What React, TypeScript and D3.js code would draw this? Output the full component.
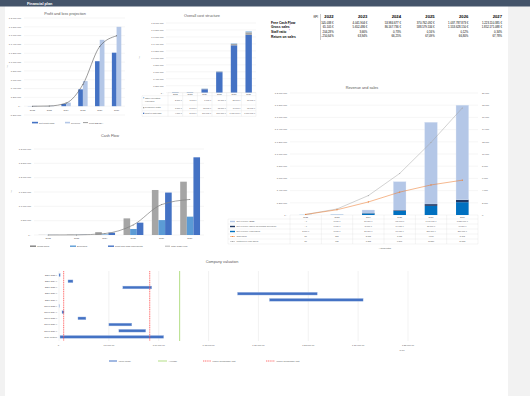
import React from 'react';
import * as d3 from 'd3';

// ---- data ----
const years = ['2022', '2023', '2024', '2025', '2026', '2027'];

// profit and loss (€)
const plNetProfit = [-3000, 2000, 50000, 382000, 1020000, 1213000];
const plRevenue = [6500, 9000, 80000, 569000, 1505000, 1800000];
const plEbitda = [-2000, 4000, 70000, 494000, 1355000, 1595000];

// cost structure (€)
const costMaterials = [4000, 8000, 100000, 590000, 1360000, 1660000];
const costPersonnel = [3000, 5000, 12000, 18000, 40000, 75000];
const costOther = [2000, 3000, 6000, 10000, 18000, 30000];

// KPI table
const kpiFreeCashFlow = [105038, 4041904, 53984677, 370762092, 1037787873, 1223110385];
const kpiGrossSales = [65105, 5652486, 86167736, 588579534, 1553628150, 1852171088];
const kpiStaffRatio = [204.28, 3.66, 0.73, 0.16, 0.12, 0.34];
const kpiReturnOnSales = [-250.64, 63.94, 66.25, 67.09, 66.8, 67.78];

// revenue and sales
const revB2B = [0, 3000, 50000, 466000, 1340000, 1550000];
const revFunding = [0, 1000, 5000, 14000, 30000, 40000];
const revOwn = [2000, 3000, 27000, 66000, 150000, 210000];
const unitsOwn = [89, 857, 2138, 3751, 4930, 5708];
const unitsTotal = [89, 986, 3182, 6807, 11887, 17551];

// cash flow (€)
const cfGross = [5000, 10000, 100000, 580000, 1570000, 1860000];
const cfExpenses = [3000, 5000, 20000, 210000, 520000, 640000];
const cfProfit = [2000, 6000, 80000, 430000, 1480000, 2710000];
const cfTotal = [1000, 4000, 50000, 350000, 1060000, 1240000];

// company valuation (T€)
const valMethods = ['EBIT 2023 x', 'EBIT 2024 x', 'EBIT 2025 x', 'EBIT 2026 x', 'EBIT 2027 x',
  'Sales 2023 x', 'Sales 2024 x', 'Sales 2025 x', 'Sales 2026 x', 'Sales 2027 x', 'DCF method'];
const valLow = [0, 900, 6400, 17900, 21100, 0, 300, 1900, 5000, 6000, 100];
const valHigh = [120, 1400, 9300, 25900, 30500, 40, 500, 2700, 7300, 8700, 10500];
const valAverage = 12100;
const valLowerLimit = 470;
const valUpperLimit = 9100;

const FONT = '"Liberation Sans", Arial, sans-serif';
const TXT = '#595959';
const GRID = '#E4E4E4';
const LINE = '#D9D9D9';

const de = d3.formatLocale({ decimal: ',', thousands: '.', grouping: [3], currency: ['€ ', ''] });
const fmtInt = de.format(',.0f');
const fmt2 = de.format(',.2f');
const euro = (v: number) => (v === 0 ? '€ -' : (v < 0 ? '-€ ' : '€ ') + fmtInt(Math.abs(v)));
const euroCell = (v: number) => (v === 0 ? '- €' : fmtInt(v) + ' €');
const pct = (v: number) => fmt2(v) + '%';

function ProfitChart() {
  const x = d3.scaleBand().domain(years).range([24, 125]);
  const bw = x.bandwidth();
  const inner = d3.scaleBand().domain(['p', 'r']).range([bw * 0.22, bw * 0.78]);
  const y = d3.scaleLinear().domain([-200000, 2000000]).range([115, 18]);
  const ticks = d3.range(-200000, 2000001, 200000);
  const cx = (i: number) => (x(years[i]) as number) + bw / 2;
  const line = d3.line<number>().x((_, i) => cx(i)).y(d => y(d)).curve(d3.curveMonotoneX);
  return (
    <g>
      <text x={65} y={15} fontSize={3.8} fill={TXT} textAnchor="middle">Profit and loss projection</text>
      {ticks.map(t => (
        <g key={t}>
          <line x1={24} x2={125} y1={y(t)} y2={y(t)} stroke={GRID} strokeWidth={0.35} />
          <text x={21} y={y(t) + 0.8} fontSize={2.3} fill={TXT} textAnchor="end">{euro(t)}</text>
        </g>
      ))}
      <text transform={`translate(8,67) rotate(-90)`} fontSize={2.3} fill={TXT} textAnchor="middle">in €</text>
      {years.map((yr, i) => (
        <g key={yr}>
          <rect x={(x(yr) as number) + (inner('p') as number)} width={inner.bandwidth()}
            y={y(Math.max(0, plNetProfit[i]))} height={Math.abs(y(plNetProfit[i]) - y(0))} fill="#4472C4" />
          <rect x={(x(yr) as number) + (inner('r') as number)} width={inner.bandwidth()}
            y={y(plRevenue[i])} height={y(0) - y(plRevenue[i])} fill="#B4C7E7" />
          <text x={cx(i)} y={110.5} fontSize={2.3} fill={TXT} textAnchor="middle">{yr}</text>
        </g>
      ))}
      <path d={line(plEbitda) as string} fill="none" stroke="#595959" strokeWidth={0.6} />
      {plEbitda.map((v, i) => <circle key={i} cx={cx(i)} cy={y(v)} r={0.5} fill="#595959" />)}
      <rect x={32} y={121.8} width={6} height={1.6} fill="#4472C4" />
      <text x={39} y={123.5} fontSize={2.3} fill={TXT}>Net profit/(loss)</text>
      <rect x={65} y={121.8} width={5} height={1.6} fill="#B4C7E7" />
      <text x={71} y={123.5} fontSize={2.3} fill={TXT}>Revenue</text>
      <line x1={83} x2={88} y1={122.6} y2={122.6} stroke="#595959" strokeWidth={0.6} />
      <text x={89} y={123.5} fontSize={2.3} fill={TXT}>Profit EBITDA</text>
    </g>
  );
}

function CostChart() {
  const x = d3.scaleBand().domain(years).range([168, 256]);
  const bw = x.bandwidth();
  const y = d3.scaleLinear().domain([0, 2000000]).range([92.7, 23]);
  const ticks = d3.range(0, 2000001, 200000);
  const rows = years.map((yr, i) => ({ year: yr, materials: costMaterials[i], personnel: costPersonnel[i], other: costOther[i] }));
  const colors: Record<string, string> = { materials: '#4472C4', personnel: '#A5A5A5', other: '#9DC3E6' };
  const series = d3.stack<any>().keys(['materials', 'personnel', 'other'])(rows);
  const tableRows = [
    { label: ['Other operating', 'expenses'], color: colors.other, values: costOther, y0: 95.7, y1: 105 },
    { label: ['Personnel costs'], color: colors.personnel, values: costPersonnel, y0: 105, y1: 110.7 },
    { label: ['Cost of materials'], color: colors.materials, values: costMaterials, y0: 110.7, y1: 116.3 },
  ];
  return (
    <g>
      <text x={202} y={16.5} fontSize={3.8} fill={TXT} textAnchor="middle">Overall cost structure</text>
      {ticks.map(t => (
        <g key={t}>
          <line x1={166} x2={256} y1={y(t)} y2={y(t)} stroke={GRID} strokeWidth={0.35} />
          <text x={163.5} y={y(t) + 0.8} fontSize={2.3} fill={TXT} textAnchor="end">{euro(t)}</text>
        </g>
      ))}
      <text transform={`translate(140,58) rotate(-90)`} fontSize={2.3} fill={TXT} textAnchor="middle">in €</text>
      {series.map(s => s.map((d, i) => (
        <rect key={s.key + i} x={(x(years[i]) as number) + bw / 2 - 3.2} width={6.4}
          y={y(d[1])} height={Math.max(0.3, y(d[0]) - y(d[1]))} fill={colors[s.key]} />
      )))}
      {/* data table */}
      <line x1={168} x2={256} y1={92.7} y2={92.7} stroke={LINE} strokeWidth={0.3} />
      {years.map(yr => (
        <text key={yr} x={(x(yr) as number) + bw / 2} y={95} fontSize={2.2} fill={TXT} textAnchor="middle">{yr}</text>
      ))}
      {tableRows.map(r => (
        <g key={r.label[0]}>
          <line x1={142} x2={256} y1={r.y0} y2={r.y0} stroke={LINE} strokeWidth={0.3} />
          <rect x={143} y={r.y0 + (r.label.length > 1 ? 1.4 : 2)} width={1.3} height={1.3} fill={r.color} />
          {r.label.map((l, k) => (
            <text key={l} x={145} y={r.y0 + 3.4 + k * 3.2} fontSize={2.2} fill={TXT}>{l}</text>
          ))}
          {r.values.map((v, i) => (
            <text key={i} x={(x(years[i]) as number) + bw - 0.8} y={(r.y0 + r.y1) / 2 + 0.8} fontSize={2.1}
              fill={TXT} textAnchor="end">{euroCell(v)}</text>
          ))}
        </g>
      ))}
      <line x1={142} x2={256} y1={116.3} y2={116.3} stroke={LINE} strokeWidth={0.3} />
      {[142, ...years.map(yr => x(yr) as number), 256].map((vx, k) => (
        <line key={k} x1={vx} x2={vx} y1={k === 0 ? 95.7 : 92.7} y2={116.3} stroke={LINE} strokeWidth={0.3} />
      ))}
    </g>
  );
}

function KpiTable() {
  const x = d3.scaleBand().domain(years).range([300, 502]);
  const colRight = (i: number) => (x(years[i]) as number) + x.bandwidth();
  const rows = [
    { label: 'Free Cash Flow', values: kpiFreeCashFlow.map(euroCell), y: 23.8 },
    { label: 'Gross sales', values: kpiGrossSales.map(euroCell), y: 28.4 },
    { label: 'Staff ratio', values: kpiStaffRatio.map(pct), y: 33 },
    { label: 'Return on sales', values: kpiReturnOnSales.map(pct), y: 37.6 },
  ];
  return (
    <g>
      <text x={318} y={17.5} fontSize={2.8} fill="#000" textAnchor="end">KPI</text>
      <line x1={320.5} x2={320.5} y1={14} y2={40} stroke="#7F7F7F" strokeWidth={0.4} />
      <text x={323} y={23.5} fontSize={2.8} fill="#000">-</text>
      {years.map((yr, i) => (
        <text key={yr} x={colRight(i)} y={18.2} fontSize={4.2} fontWeight="bold" fill="#000" textAnchor="end">{yr}</text>
      ))}
      {rows.map(r => (
        <g key={r.label}>
          <text x={271} y={r.y} fontSize={3.3} fontWeight="bold" fill="#000">{r.label}</text>
          {r.values.map((v, i) => (
            <text key={i} x={colRight(i)} y={r.y - 0.3} fontSize={2.8} fill="#000" textAnchor="end">{v}</text>
          ))}
        </g>
      ))}
      <text x={289.5} y={27} fontSize={2.6} fill="#C000C0">*</text>
      <text x={289} y={31.6} fontSize={2.6} fill="#C000C0">*</text>
    </g>
  );
}

function RevenueChart() {
  const x = d3.scaleBand().domain(years).range([290, 478]);
  const bw = x.bandwidth();
  const cx = (i: number) => (x(years[i]) as number) + bw / 2;
  const y = d3.scaleLinear().domain([0, 2000000]).range([215, 93]);
  const y2 = d3.scaleLinear().domain([0, 20000]).range([215, 93]);
  const ticks = d3.range(0, 2000001, 200000);
  const ticks2 = d3.range(0, 20001, 2000);
  const rows = years.map((yr, i) => ({ year: yr, own: revOwn[i], funding: revFunding[i], b2b: revB2B[i] }));
  const colors: Record<string, string> = { own: '#0070C0', funding: '#203864', b2b: '#B4C7E7' };
  const series = d3.stack<any>().keys(['own', 'funding', 'b2b'])(rows);
  const line = d3.line<number>().x((_, i) => cx(i)).y(d => y2(d));
  const tableRows = [
    { label: 'Net revenue (B2B)', color: colors.b2b, kind: 'bar', values: revB2B.map(euroCell) },
    { label: 'Net revenue (sales via funding providers)', color: colors.funding, kind: 'bar', values: revFunding.map(euroCell) },
    { label: 'Net revenue (own sales)', color: colors.own, kind: 'bar', values: revOwn.map(euroCell) },
    { label: 'Own sales', color: '#ED7D31', kind: 'line', values: unitsOwn.map(fmtInt) },
    { label: 'Units fixed (own sales)', color: '#A5A5A5', kind: 'line', values: unitsTotal.map(fmtInt) },
  ];
  const rowY = (k: number) => 219 + k * 5;
  return (
    <g>
      <text x={362} y={89} fontSize={3.8} fill={TXT} textAnchor="middle">Revenue and sales</text>
      {ticks.map(t => (
        <g key={t}>
          <line x1={290} x2={478} y1={y(t)} y2={y(t)} stroke={GRID} strokeWidth={0.35} />
          <text x={287} y={y(t) + 0.8} fontSize={2.3} fill={TXT} textAnchor="end">{euro(t)}</text>
        </g>
      ))}
      {ticks2.map(t => (
        <text key={t} x={482} y={y2(t) + 0.8} fontSize={2.3} fill={TXT}>{fmtInt(t)}</text>
      ))}
      {series.map(s => s.map((d, i) => (
        <rect key={s.key + i} x={cx(i) - 6.3} width={12.6} y={y(d[1])}
          height={Math.max(0, y(d[0]) - y(d[1]))} fill={colors[s.key]} stroke={s.key === 'b2b' ? '#DAE3F3' : 'none'} strokeWidth={0.3} />
      )))}
      <path d={line(unitsTotal) as string} fill="none" stroke="#A5A5A5" strokeWidth={0.5} />
      {unitsTotal.map((v, i) => <circle key={i} cx={cx(i)} cy={y2(v)} r={0.55} fill="#A5A5A5" />)}
      <path d={line(unitsOwn) as string} fill="none" stroke="#ED7D31" strokeWidth={0.55} />
      {unitsOwn.map((v, i) => <circle key={i} cx={cx(i)} cy={y2(v)} r={0.6} fill="#ED7D31" />)}
      {/* data table */}
      {years.map((yr, i) => (
        <text key={yr} x={cx(i)} y={218} fontSize={2.2} fill={TXT} textAnchor="middle">{yr}</text>
      ))}
      {tableRows.map((r, k) => (
        <g key={r.label}>
          <line x1={228} x2={478} y1={rowY(k)} y2={rowY(k)} stroke={LINE} strokeWidth={0.3} />
          {r.kind === 'bar'
            ? <rect x={230} y={rowY(k) + 1.8} width={5} height={1.4} fill={r.color} />
            : <g>
                <line x1={230} x2={235} y1={rowY(k) + 2.5} y2={rowY(k) + 2.5} stroke={r.color} strokeWidth={0.5} />
                <circle cx={232.5} cy={rowY(k) + 2.5} r={0.55} fill={r.color} />
              </g>}
          <text x={236.5} y={rowY(k) + 3.3} fontSize={2.2} fill={TXT}>{r.label}</text>
          {r.values.map((v, i) => (
            <text key={i} x={cx(i)} y={rowY(k) + 3.3} fontSize={2.1} fill={TXT} textAnchor="middle">{v}</text>
          ))}
        </g>
      ))}
      <line x1={228} x2={478} y1={244} y2={244} stroke={LINE} strokeWidth={0.3} />
      {[228, ...years.map(yr => x(yr) as number), 478].map((vx, k) => (
        <line key={k} x1={vx} x2={vx} y1={k === 0 ? 219 : 215} y2={244} stroke={LINE} strokeWidth={0.3} />
      ))}
      <text x={385} y={248.5} fontSize={2.3} fill={TXT} textAnchor="middle">Actual/initial</text>
    </g>
  );
}

function CashFlowChart() {
  const x = d3.scaleBand().domain(years).range([34, 204]);
  const bw = x.bandwidth();
  const inner = d3.scaleBand().domain(['g', 'e', 'p']).range([bw * 0.16, bw * 0.86]);
  const cx = (i: number) => (x(years[i]) as number) + bw / 2;
  const y = d3.scaleLinear().domain([0, 3000000]).range([235, 149]);
  const ticks = d3.range(0, 3000001, 500000);
  const bars = [
    { key: 'g', color: '#A5A5A5', values: cfGross },
    { key: 'e', color: '#5B9BD5', values: cfExpenses },
    { key: 'p', color: '#4472C4', values: cfProfit },
  ];
  const line = d3.line<number>().x((_, i) => cx(i)).y(d => y(d)).curve(d3.curveMonotoneX);
  return (
    <g>
      <text x={110} y={137} fontSize={3.8} fill={TXT} textAnchor="middle">Cash Flow</text>
      {ticks.map(t => (
        <g key={t}>
          <line x1={34} x2={204} y1={y(t)} y2={y(t)} stroke={GRID} strokeWidth={0.35} />
          <text x={31} y={y(t) + 0.8} fontSize={2.3} fill={TXT} textAnchor="end">{euro(t)}</text>
        </g>
      ))}
      <text transform={`translate(12,192) rotate(-90)`} fontSize={2.3} fill={TXT} textAnchor="middle">in €</text>
      {bars.map(b => b.values.map((v, i) => (
        <rect key={b.key + i} x={(x(years[i]) as number) + (inner(b.key) as number)} width={inner.bandwidth()}
          y={y(v)} height={y(0) - y(v)} fill={b.color} />
      )))}
      <path d={line(cfTotal) as string} fill="none" stroke="#7F7F7F" strokeWidth={0.7} />
      {cfTotal.map((v, i) => <circle key={i} cx={cx(i)} cy={y(v)} r={0.5} fill="#7F7F7F" />)}
      {years.map((yr, i) => (
        <text key={yr} x={cx(i)} y={239} fontSize={2.3} fill={TXT} textAnchor="middle">{yr}</text>
      ))}
      <rect x={30} y={245.5} width={6} height={1.4} fill="#7F7F7F" />
      <text x={37} y={247} fontSize={2.3} fill={TXT}>Gross sales</text>
      <rect x={70} y={245.5} width={6} height={1.4} fill="#5B9BD5" />
      <text x={77} y={247} fontSize={2.3} fill={TXT}>Expenses</text>
      <rect x={108} y={245.5} width={6} height={1.4} fill="#4472C4" />
      <text x={115} y={247} fontSize={2.3} fill={TXT}>Profit and cash equivalents</text>
      <line x1={165} x2={170} y1={246.2} y2={246.2} stroke="#7F7F7F" strokeWidth={0.6} />
      <text x={171} y={247} fontSize={2.3} fill={TXT}>Total Cash Flow</text>
    </g>
  );
}

function ValuationChart() {
  const x = d3.scaleLinear().domain([0, 35000]).range([59, 408]);
  const y = d3.scaleBand().domain(valMethods).range([272, 340]).paddingInner(0.55).paddingOuter(0.28);
  const ticks = d3.range(0, 35001, 5000);
  return (
    <g>
      <text x={222} y={263} fontSize={3.8} fill={TXT} textAnchor="middle">Company valuation</text>
      {ticks.map(t => (
        <g key={t}>
          <line x1={x(t)} x2={x(t)} y1={271} y2={341} stroke={GRID} strokeWidth={0.5} />
          <text x={x(t)} y={345.5} fontSize={2.3} fill={TXT} textAnchor="middle">{t === 0 ? '€ -' : '€ ' + fmt2(t)}</text>
        </g>
      ))}
      <text x={402} y={350.5} fontSize={2.3} fill={TXT} textAnchor="middle">in T€</text>
      {valMethods.map((m, i) => (
        <g key={m}>
          <text x={57} y={(y(m) as number) + y.bandwidth() / 2 + 0.8} fontSize={2.2} fill={TXT} textAnchor="end">{m}</text>
          <rect x={x(valLow[i])} width={Math.max(0.8, x(valHigh[i]) - x(valLow[i]))} y={y(m)} height={y.bandwidth()}
            fill={valHigh[i] - valLow[i] < 100 ? '#B4C7E7' : '#4472C4'} stroke="#B4C7E7" strokeWidth={0.35} />
        </g>
      ))}
      <line x1={x(valAverage)} x2={x(valAverage)} y1={271} y2={341} stroke="#92D050" strokeWidth={0.7} />
      <line x1={x(valLowerLimit)} x2={x(valLowerLimit)} y1={271} y2={341} stroke="#FF5050" strokeWidth={0.8} strokeDasharray="1.2,0.6" />
      <line x1={x(valUpperLimit)} x2={x(valUpperLimit)} y1={271} y2={341} stroke="#FF5050" strokeWidth={0.8} strokeDasharray="1.2,0.6" />
      <line x1={109} x2={117} y1={361} y2={361} stroke="#4472C4" strokeWidth={1} />
      <text x={118.5} y={361.8} fontSize={2.3} fill={TXT}>Value range</text>
      <line x1={158} x2={167} y1={361} y2={361} stroke="#92D050" strokeWidth={0.7} />
      <text x={168.5} y={361.8} fontSize={2.3} fill={TXT}>Average</text>
      <line x1={203} x2={211} y1={361} y2={361} stroke="#FF5050" strokeWidth={0.8} strokeDasharray="1.2,0.6" />
      <text x={212.5} y={361.8} fontSize={2.3} fill={TXT}>Lower benchmark limit</text>
      <line x1={266} x2={275} y1={361} y2={361} stroke="#FF5050" strokeWidth={0.8} strokeDasharray="1.2,0.6" />
      <text x={276.5} y={361.8} fontSize={2.3} fill={TXT}>Upper benchmark limit</text>
    </g>
  );
}

export default function App() {
  return (
    <div style={{ position: 'absolute', left: 0, top: 0 }}>
      <svg width={530} height={396} fontFamily={FONT} style={{ display: 'block' }}>
        <rect width={530} height={396} fill="#fff" />
        <rect x={0} y={0} width={5} height={396} fill="#F2F2F2" />
        <rect x={508} y={0} width={22} height={396} fill="#F2F2F2" />
        <rect x={0} y={0} width={530} height={6.5} fill="#44546A" />
        <text x={27} y={4.8} fontSize={3.8} fontWeight="bold" fill="#fff">Financial plan</text>
        <ProfitChart />
        <CostChart />
        <KpiTable />
        <RevenueChart />
        <CashFlowChart />
        <ValuationChart />
      </svg>
    </div>
  );
}
